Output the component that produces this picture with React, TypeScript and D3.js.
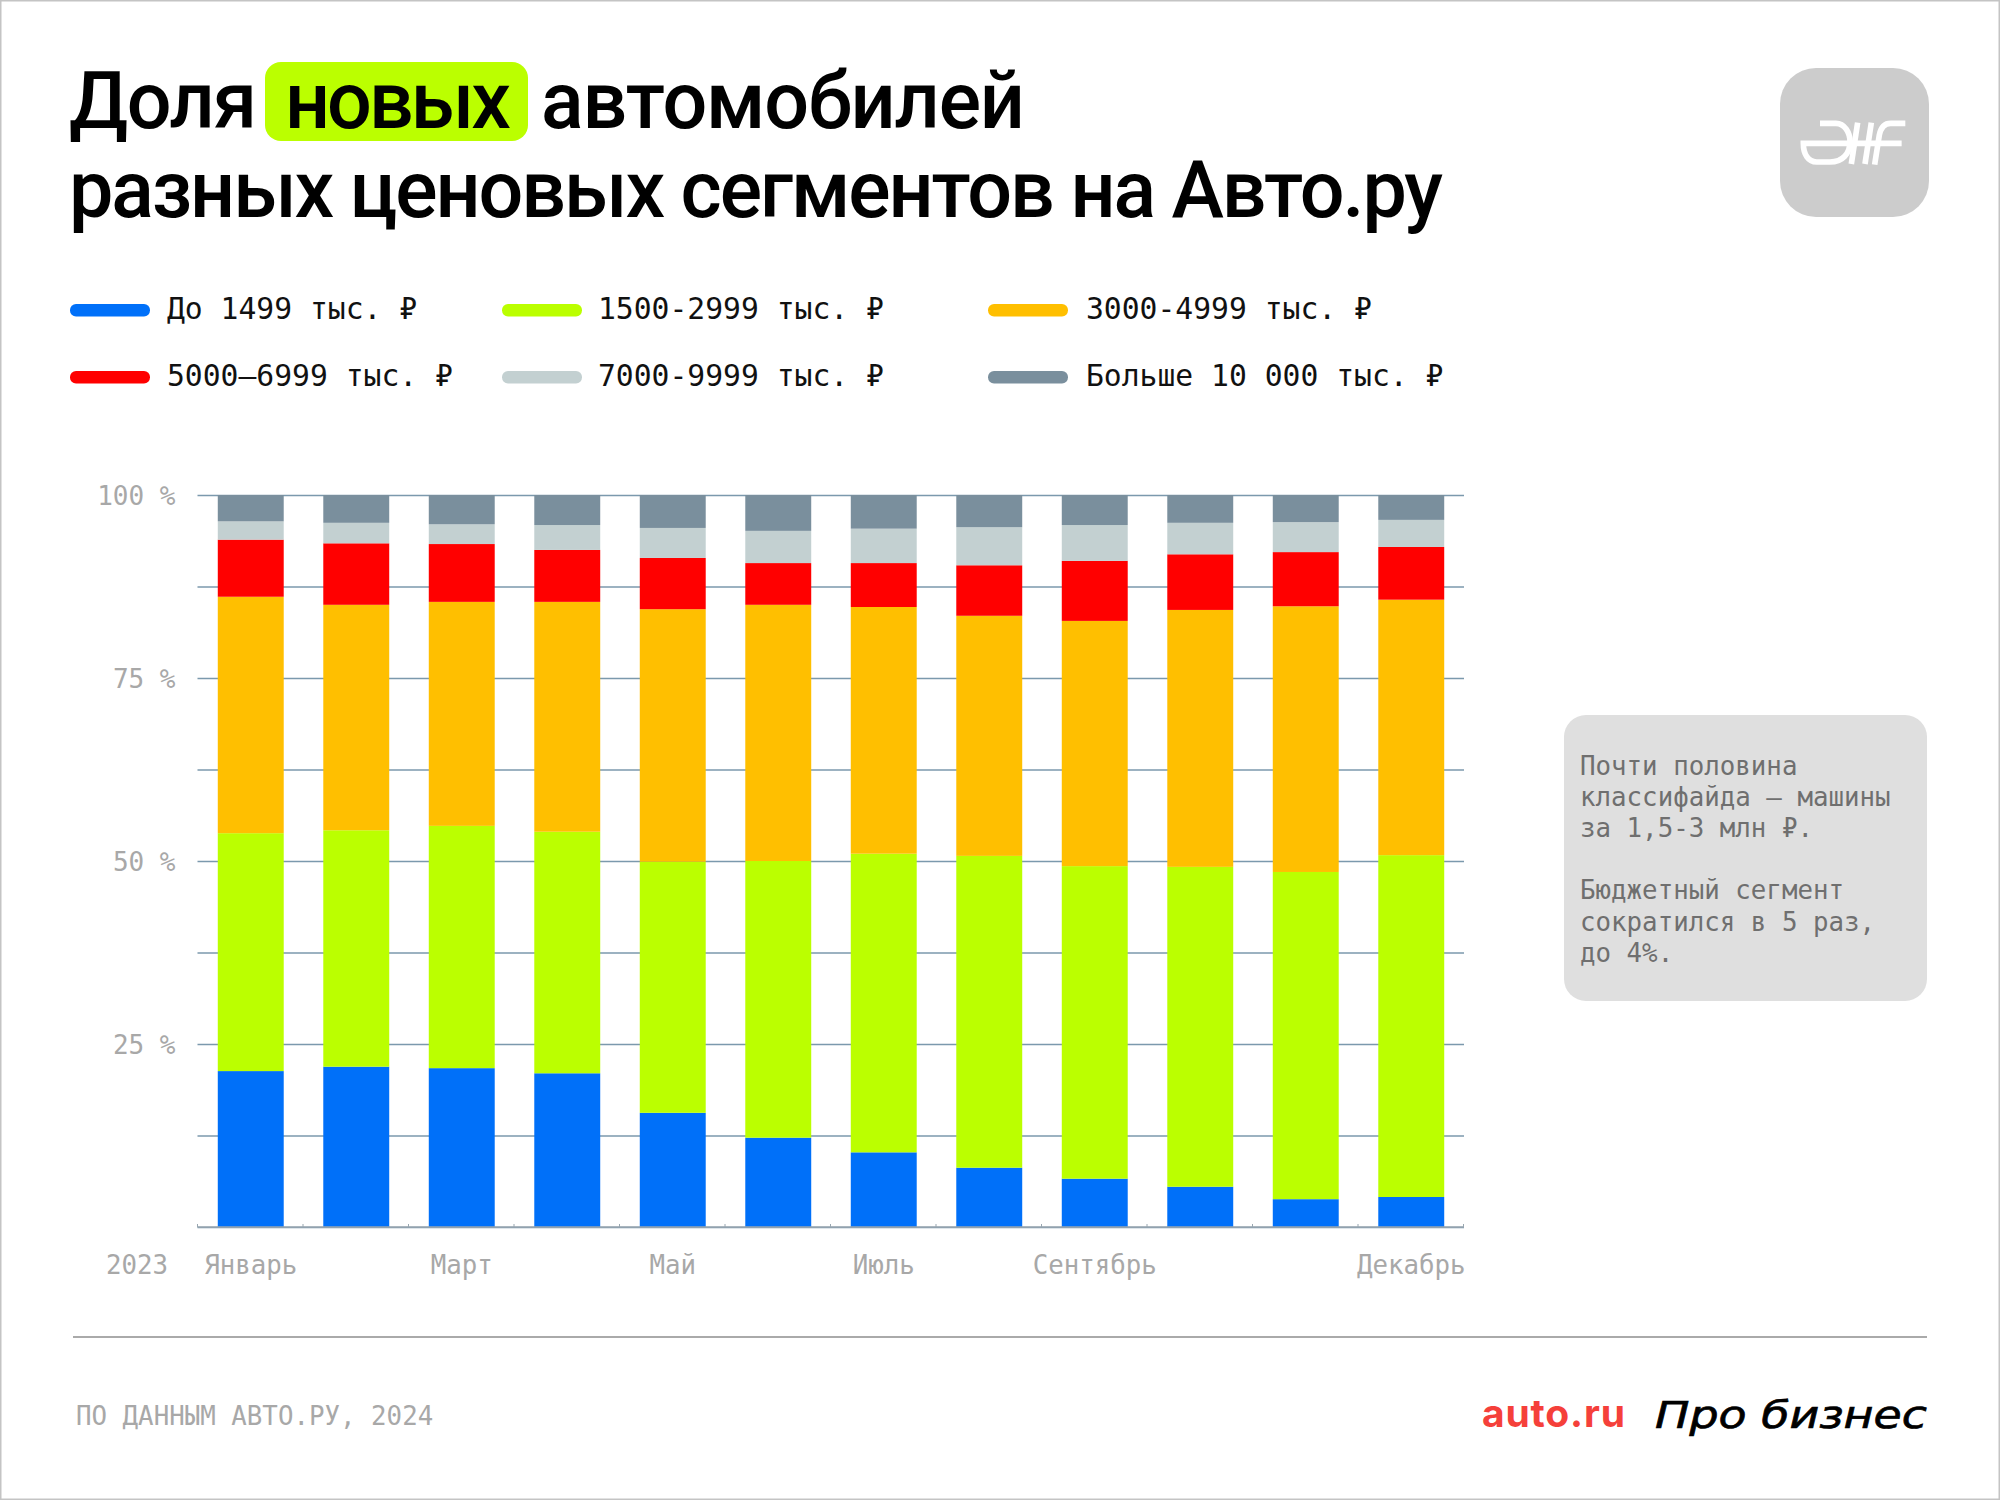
import React, { useEffect, useRef } from 'react';
import * as d3 from 'd3';

const months = ['Январь', 'Февраль', 'Март', 'Апрель', 'Май', 'Июнь', 'Июль', 'Август', 'Сентябрь', 'Октябрь', 'Ноябрь', 'Декабрь'];
const shownMonths = ['Январь', 'Март', 'Май', 'Июль', 'Сентябрь', 'Декабрь'];

const segmentKeys = ['s1', 's2', 's3', 's4', 's5', 's6'];
const segmentLabels = ['До 1499 тыс. ₽', '1500-2999 тыс. ₽', '3000-4999 тыс. ₽', '5000–6999 тыс. ₽', '7000-9999 тыс. ₽', 'Больше 10 000 тыс. ₽'];
const segmentColors = ['#0070f9', '#bbff00', '#ffbf00', '#ff0000', '#c3d0d1', '#7a8f9d'];

const s1 = [21.3, 21.9, 21.7, 21.0, 15.6, 12.2, 10.2, 8.1, 6.6, 5.5, 3.8, 4.1];
const s2 = [32.5, 32.3, 33.1, 33.0, 34.3, 37.8, 40.8, 42.6, 42.7, 43.7, 44.7, 46.7];
const s3 = [32.3, 30.8, 30.6, 31.4, 34.5, 35.0, 33.7, 32.8, 33.5, 35.1, 36.3, 34.9];
const s4 = [7.8, 8.4, 7.9, 7.1, 7.0, 5.7, 6.0, 6.9, 8.2, 7.6, 7.4, 7.2];
const s5 = [2.5, 2.8, 2.7, 3.4, 4.1, 4.4, 4.7, 5.2, 4.9, 4.3, 4.1, 3.7];
const s6 = [3.6, 3.8, 4.0, 4.1, 4.5, 4.9, 4.6, 4.4, 4.1, 3.8, 3.7, 3.4];

const yTicks = [0, 12.5, 25, 37.5, 50, 62.5, 75, 87.5, 100];
const yLabelled = [25, 50, 75, 100];

const noteLines = ['Почти половина', 'классифайда — машины', 'за 1,5-3 млн ₽.', '', 'Бюджетный сегмент', 'сократился в 5 раз,', 'до 4%.'];

const MONO = '"DejaVu Sans Mono", monospace';
const SANS = 'Roboto, sans-serif';
const AXIS_GREY = '#a8a8a8';
const GRID = '#7b99ad';

const drawChart = (svgEl: SVGSVGElement) => {
    const root = d3.select(svgEl);
    root.selectAll('*').remove();

    // page frame
    root.append('rect').attr('x', 0.5).attr('y', 0.5).attr('width', 1999).attr('height', 1499)
        .attr('fill', '#fff').attr('stroke', '#c4c4c4').attr('stroke-width', 2);

    // --- Title ---
    root.append('rect').attr('x', 265).attr('y', 62).attr('width', 263).attr('height', 79).attr('rx', 16).attr('fill', '#bbff00');
    const titleParts = [
        { text: 'Доля', x: 69, y: 128, w: 188 },
        { text: 'новых', x: 285, y: 128, w: 226 },
        { text: 'автомобилей', x: 541, y: 128, w: 484 },
        { text: 'разных ценовых сегментов на Авто.ру', x: 69, y: 217, w: 1374 },
    ];
    titleParts.forEach(t => {
        root.append('text')
            .attr('x', t.x).attr('y', t.y)
            .attr('textLength', t.w).attr('lengthAdjust', 'spacing')
            .style('font-family', SANS).style('font-size', '79px').style('font-weight', 500)
            .style('fill', '#000').text(t.text);
    });

    // --- Logo badge ---
    root.append('rect').attr('x', 1780).attr('y', 68).attr('width', 149).attr('height', 149).attr('rx', 36).attr('fill', '#cccccc');
    const badge = root.append('g').attr('transform', 'translate(1770, 60) scale(0.3333)')
        .attr('fill', 'none').attr('stroke', '#fff').attr('stroke-width', 17);
    badge.append('path').attr('d', 'M150 190 H198 C224 190 240 218 240 245 C240 280 218 306 180 306 H140 C114 306 100 282 100 250 H395');
    badge.append('path').attr('d', 'M263 188 L244 312');
    badge.append('path').attr('d', 'M304 188 L285 312');
    badge.append('path').attr('d', 'M406 190 H362 C340 190 332 205 328 225 L314 314');

    // --- Legend ---
    const legendCols = [70, 502, 988];
    const legendText = [167, 598, 1086];
    const legendRows = [319, 386];
    segmentLabels.forEach((label, i) => {
        const col = i % 3;
        const row = Math.floor(i / 3);
        root.append('rect')
            .attr('x', legendCols[col]).attr('y', legendRows[row] - 15)
            .attr('width', 80).attr('height', 12.5).attr('rx', 6)
            .attr('fill', segmentColors[i]);
        root.append('text')
            .attr('x', legendText[col]).attr('y', legendRows[row])
            .style('font-family', MONO).style('font-size', '29.7px').style('fill', '#111')
            .text(label);
    });

    // --- Scales ---
    const x = d3.scaleBand<string>().domain(months).range([198, 1464]).paddingInner(0.375).paddingOuter(0.1875);
    const y = d3.scaleLinear().domain([0, 100]).range([1227, 495]);

    const rows = months.map((m, i) => ({ month: m, s1: s1[i], s2: s2[i], s3: s3[i], s4: s4[i], s5: s5[i], s6: s6[i] }));
    const series = d3.stack<any>().keys(segmentKeys)(rows);

    // --- Grid and y labels ---
    const yAxis = root.append('g').attr('transform', 'translate(197.5, 0)')
        .call(d3.axisLeft(y).tickValues(yTicks).tickSize(-(1464 - 197.5)).tickPadding(22)
            .tickFormat((d: any) => (yLabelled.includes(d) ? `${d} %` : '')));
    yAxis.select('.domain').remove();
    yAxis.selectAll('line').attr('stroke', GRID).attr('stroke-width', 1.5);
    yAxis.selectAll('text')
        .attr('dy', 0).attr('y', 9.5)
        .attr('font-family', null).attr('font-size', null)
        .style('font-family', MONO).style('font-size', '26px').style('fill', AXIS_GREY);

    // --- Stacked bars ---
    series.forEach((s, i) => {
        root.append('g').attr('fill', segmentColors[i])
            .selectAll('rect').data(s).enter().append('rect')
            .attr('x', (d: any) => x(d.data.month) as number)
            .attr('y', (d: any) => y(d[1]))
            .attr('width', x.bandwidth())
            .attr('height', (d: any) => y(d[0]) - y(d[1]));
    });

    // --- X axis ---
    const step = x.step();
    const xAxisG = root.append('g').attr('transform', `translate(0, ${y(0)})`);
    xAxisG.append('line').attr('x1', 197.5).attr('x2', 1464).attr('stroke', '#98a6b0').attr('stroke-width', 1.5);
    [...months, ''].forEach((_m, i) => {
        const tx = 197.5 + i * step;
        xAxisG.append('line').attr('x1', tx).attr('x2', tx).attr('y1', 0).attr('y2', -3).attr('stroke', '#98a6b0').attr('stroke-width', 1);
    });
    shownMonths.forEach(m => {
        xAxisG.append('text')
            .attr('x', (x(m) as number) + x.bandwidth() / 2)
            .attr('y', 47)
            .attr('text-anchor', 'middle')
            .style('font-family', MONO).style('font-size', '25.8px').style('fill', AXIS_GREY)
            .text(m);
    });
    root.append('text').attr('x', 106).attr('y', 1274)
        .style('font-family', MONO).style('font-size', '25.8px').style('fill', AXIS_GREY).text('2023');

    // --- Note box ---
    root.append('rect').attr('x', 1564).attr('y', 715).attr('width', 363).attr('height', 286).attr('rx', 22).attr('fill', '#dfdfdf');
    noteLines.forEach((line, i) => {
        root.append('text').attr('x', 1580).attr('y', 775 + i * 31.1)
            .style('font-family', MONO).style('font-size', '25.8px').style('fill', '#6f6f6f').text(line);
    });

    // --- Footer ---
    root.append('line').attr('x1', 73).attr('x2', 1927).attr('y1', 1337).attr('y2', 1337).attr('stroke', '#aaaaaa').attr('stroke-width', 2);
    root.append('text').attr('x', 76).attr('y', 1425)
        .style('font-family', MONO).style('font-size', '25.8px').style('fill', AXIS_GREY).text('ПО ДАННЫМ АВТО.РУ, 2024');
    root.append('text').attr('x', 1482).attr('y', 1427).attr('textLength', 143)
        .style('font-family', 'Inter, sans-serif').style('font-size', '39px').style('font-weight', 700)
        .style('fill', '#f5403a').text('auto.ru');
    root.append('text').attr('x', 1655).attr('y', 1428).attr('textLength', 272).attr('lengthAdjust', 'spacingAndGlyphs')
        .style('font-family', '"DejaVu Sans", sans-serif').style('font-size', '38px').style('font-style', 'italic')
        .style('fill', '#000').style('stroke', '#000').style('stroke-width', 0.7).text('Про бизнес');
};

const App: React.FC = () => {
    const ref = useRef<SVGSVGElement | null>(null);

    useEffect(() => {
        if (ref.current) drawChart(ref.current);
    }, []);

    return (
        <svg
            ref={ref}
            width={2000}
            height={1500}
            viewBox="0 0 2000 1500"
            style={{ position: 'absolute', left: 0, top: 0, display: 'block' }}
        />
    );
};

export default App;
